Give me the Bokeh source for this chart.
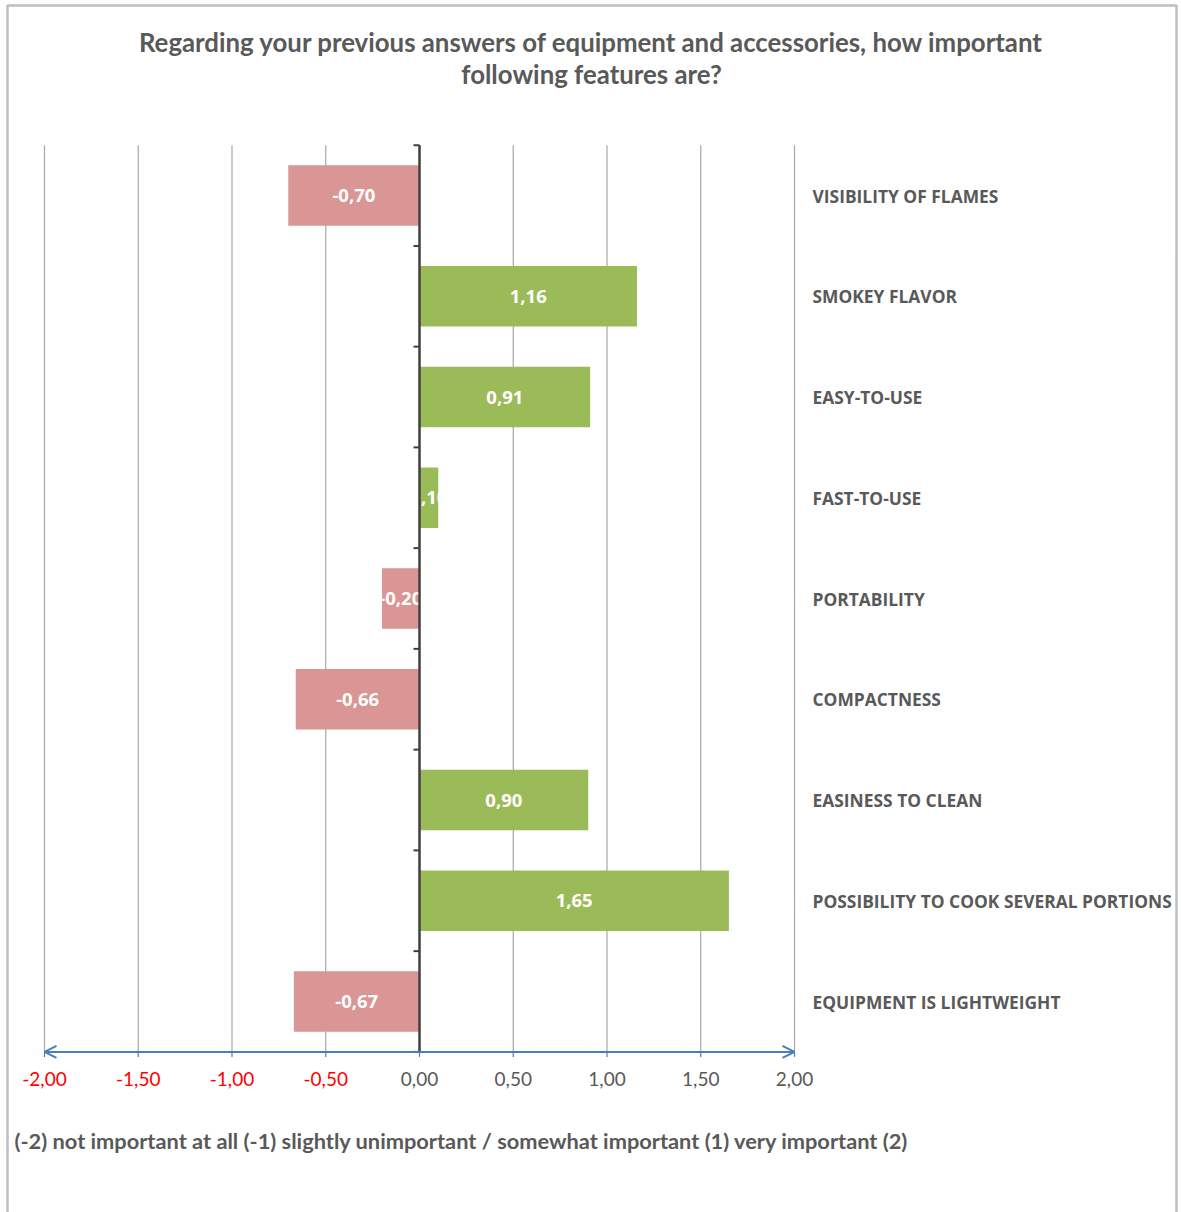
from bokeh.plotting import figure
from bokeh.models import Range1d, Arrow, OpenHead, ColumnDataSource
from bokeh.core.properties import value
from bokeh.embed import file_html
from bokeh.resources import INLINE

# ---------------- data ----------------
categories = [
    "VISIBILITY OF FLAMES",
    "SMOKEY FLAVOR",
    "EASY-TO-USE",
    "FAST-TO-USE",
    "PORTABILITY",
    "COMPACTNESS",
    "EASINESS TO CLEAN",
    "POSSIBILITY TO COOK SEVERAL PORTIONS",
    "EQUIPMENT IS LIGHTWEIGHT",
]
scores = [-0.70, 1.16, 0.91, 0.10, -0.20, -0.66, 0.90, 1.65, -0.67]
x_ticks = [-2.0, -1.5, -1.0, -0.5, 0.0, 0.5, 1.0, 1.5, 2.0]
x_tick_labels = ["-2,00", "-1,50", "-1,00", "-0,50", "0,00", "0,50", "1,00", "1,50", "2,00"]
title_lines = [
    "Regarding your previous answers of equipment and accessories, how important",
    "following features are?",
]
scale_note = "(-2) not important at all (-1) slightly unimportant / somewhat important (1) very important (2)"

# ---------------- layout helpers ----------------
W, H = 1181, 1212
X0_PX, X_PER_UNIT = 419.0, 187.5       # pixel of value 0, pixels per unit
Y0_PX, Y_PER_CAT = 195.0, 100.75       # pixel of first category centre, pixels per category


def px_x(px):
    return (px - X0_PX) / X_PER_UNIT


def px_y(py):
    return (py - Y0_PX) / Y_PER_CAT


def fmt(v):
    return f"{v:.2f}".replace(".", ",")


n = len(categories)
ys = list(range(n))
bar_colors = ["#9BBB59" if v >= 0 else "#D99694" for v in scores]
tick_colors = ["#FF0000" if t < 0 else "#595959" for t in x_ticks]

p = figure(
    width=W, height=H,
    x_range=Range1d(px_x(0), px_x(W)),
    y_range=Range1d(px_y(H), px_y(0)),
    x_axis_location=None, y_axis_location=None,
    toolbar_location=None, output_backend="svg",
    min_border=0, min_border_left=0, min_border_right=0,
    min_border_top=0, min_border_bottom=0,
)
p.outline_line_color = None
p.grid.visible = False
p.background_fill_color = "white"
p.border_fill_color = "white"

FONT = value("Open Sans")
TFONT = value("Lato")

# chart border
p.quad(left=[px_x(7)], right=[px_x(1176)], top=[px_y(5)], bottom=[px_y(1230)],
       fill_color=None, line_color="#BFBFBF", line_width=2.5)

top_y, bot_y = -0.5, n - 0.5

# vertical gridlines
p.segment(x0=x_ticks, y0=[top_y] * len(x_ticks), x1=x_ticks, y1=[bot_y] * len(x_ticks),
          line_color="#A6A6A6", line_width=1.2)

# bars
src = ColumnDataSource(dict(
    y=ys, right=scores, color=bar_colors,
    mid=[v / 2 for v in scores], lab=[fmt(v) for v in scores],
))
p.hbar(y="y", left=0, right="right", height=0.6, fill_color="color",
       line_color=None, source=src)

# value labels on bars
p.text(x="mid", y="y", text="lab", source=src, text_color="white",
       text_font=FONT, text_font_style="bold", text_font_size="18.5px",
       text_align="center", text_baseline="middle")

# vertical zero axis with tick marks at category boundaries
p.segment(x0=[0], y0=[top_y], x1=[0], y1=[bot_y], line_color="#404040", line_width=2.5)
bounds = [i - 0.5 for i in range(n + 1)]
p.segment(x0=[px_x(X0_PX - 6)] * len(bounds), y0=bounds, x1=[0] * len(bounds), y1=bounds,
          line_color="#404040", line_width=2)

# horizontal blue axis with arrows
p.segment(x0=x_ticks, y0=[bot_y] * len(x_ticks), x1=x_ticks,
          y1=[bot_y + 5 / Y_PER_CAT] * len(x_ticks), line_color="#4A7EBB", line_width=1.2)
p.add_layout(Arrow(
    start=OpenHead(size=12, line_color="#4A7EBB", line_width=2),
    end=OpenHead(size=12, line_color="#4A7EBB", line_width=2),
    x_start=x_ticks[0], y_start=bot_y, x_end=x_ticks[-1], y_end=bot_y,
    line_color="#4A7EBB", line_width=2,
))

# x tick labels
p.text(x=x_ticks, y=[px_y(1078)] * len(x_ticks), text=x_tick_labels,
       text_color=tick_colors, text_font=TFONT, text_font_size="19px",
       text_align="center", text_baseline="middle")

# category labels on the right
p.text(x=[px_x(812)] * n, y=ys, text=categories, text_color="#595959",
       text_font=FONT, text_font_style="bold", text_font_size="17.4px",
       text_align="left", text_baseline="middle")

# title
p.text(x=[px_x(591)] * 2, y=[px_y(41), px_y(73)], text=title_lines,
       text_color="#595959", text_font=TFONT, text_font_style="bold",
       text_font_size="25.8px", text_align="center", text_baseline="middle")

# scale note
p.text(x=[px_x(14)], y=[px_y(1140)], text=[scale_note], text_color="#595959",
       text_font=TFONT, text_font_style="bold", text_font_size="21.8px",
       text_align="left", text_baseline="middle")

open("out.html", "w").write(file_html(p, INLINE))
